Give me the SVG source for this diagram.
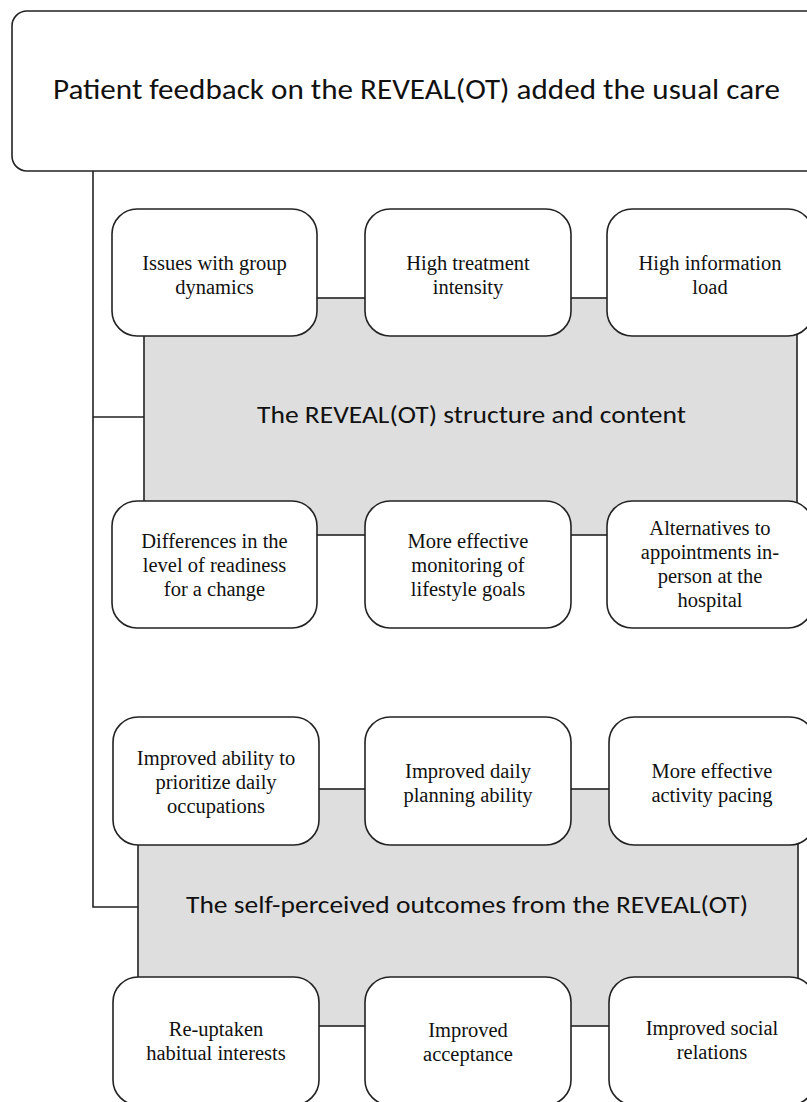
<svg xmlns="http://www.w3.org/2000/svg" width="807" height="1102" viewBox="0 0 807 1102">
<style>
.bg{fill:#ffffff}
.box{fill:#ffffff;stroke:#222;stroke-width:1.6}
.panel{fill:#dedede;stroke:#222;stroke-width:1.6}
.wire{fill:none;stroke:#222;stroke-width:1.6}
.t{font-family:"Liberation Serif","Times New Roman",serif;font-size:20.5px;fill:#111;text-anchor:middle}
.h{font-family:Carlito,Lato,"Open Sans",sans-serif;fill:#111;text-anchor:middle}
</style>
<rect class="bg" x="0" y="0" width="807" height="1102"/>
<g id="connectors">
<path class="wire" d="M93,171 V907 H138 M93,417 H144"/>
</g>
<g id="root">
<rect class="box" x="12" y="11" width="810" height="160" rx="15"/>
<text class="h" x="416.5" y="99" font-size="29.5" textLength="727" lengthAdjust="spacingAndGlyphs">Patient feedback on the REVEAL(OT) added the usual care</text>
</g>
<g id="structure">
<rect class="panel" x="144" y="298" width="653" height="237"/>
<text class="h" x="471.5" y="423" font-size="25" textLength="429" lengthAdjust="spacingAndGlyphs">The REVEAL(OT) structure and content</text>
</g>
<g id="s1">
<rect class="box" x="112" y="209" width="205" height="127" rx="25"/>
<text class="t" x="214.5" y="270">Issues with group</text>
<text class="t" x="214.5" y="294">dynamics</text>
</g>
<g id="s2">
<rect class="box" x="365" y="209" width="206" height="127" rx="25"/>
<text class="t" x="468" y="270">High treatment</text>
<text class="t" x="468" y="294">intensity</text>
</g>
<g id="s3">
<rect class="box" x="607" y="209" width="206" height="127" rx="25"/>
<text class="t" x="710" y="270">High information</text>
<text class="t" x="710" y="294">load</text>
</g>
<g id="s4">
<rect class="box" x="112" y="501" width="205" height="127" rx="25"/>
<text class="t" x="214.5" y="548">Differences in the</text>
<text class="t" x="214.5" y="572">level of readiness</text>
<text class="t" x="214.5" y="596">for a change</text>
</g>
<g id="s5">
<rect class="box" x="365" y="501" width="206" height="127" rx="25"/>
<text class="t" x="468" y="548">More effective</text>
<text class="t" x="468" y="572">monitoring of</text>
<text class="t" x="468" y="596">lifestyle goals</text>
</g>
<g id="s6">
<rect class="box" x="607" y="501" width="206" height="127" rx="25"/>
<text class="t" x="710" y="535">Alternatives to</text>
<text class="t" x="710" y="559">appointments in-</text>
<text class="t" x="710" y="583">person at the</text>
<text class="t" x="710" y="607">hospital</text>
</g>
<g id="outcomes">
<rect class="panel" x="138" y="789" width="660" height="237"/>
<text class="h" x="467" y="913" font-size="25" textLength="562" lengthAdjust="spacingAndGlyphs">The self-perceived outcomes from the REVEAL(OT)</text>
</g>
<g id="o1">
<rect class="box" x="113" y="717" width="206" height="128" rx="25"/>
<text class="t" x="216" y="765">Improved ability to</text>
<text class="t" x="216" y="789">prioritize daily</text>
<text class="t" x="216" y="813">occupations</text>
</g>
<g id="o2">
<rect class="box" x="365" y="717" width="206" height="128" rx="25"/>
<text class="t" x="468" y="778">Improved daily</text>
<text class="t" x="468" y="802">planning ability</text>
</g>
<g id="o3">
<rect class="box" x="609" y="717" width="206" height="128" rx="25"/>
<text class="t" x="712" y="778">More effective</text>
<text class="t" x="712" y="802">activity pacing</text>
</g>
<g id="o4">
<rect class="box" x="113" y="977" width="206" height="128" rx="25"/>
<text class="t" x="216" y="1036">Re-uptaken</text>
<text class="t" x="216" y="1060">habitual interests</text>
</g>
<g id="o5">
<rect class="box" x="365" y="977" width="206" height="128" rx="25"/>
<text class="t" x="468" y="1037">Improved</text>
<text class="t" x="468" y="1061">acceptance</text>
</g>
<g id="o6">
<rect class="box" x="609" y="977" width="206" height="128" rx="25"/>
<text class="t" x="712" y="1035">Improved social</text>
<text class="t" x="712" y="1059">relations</text>
</g>
</svg>
